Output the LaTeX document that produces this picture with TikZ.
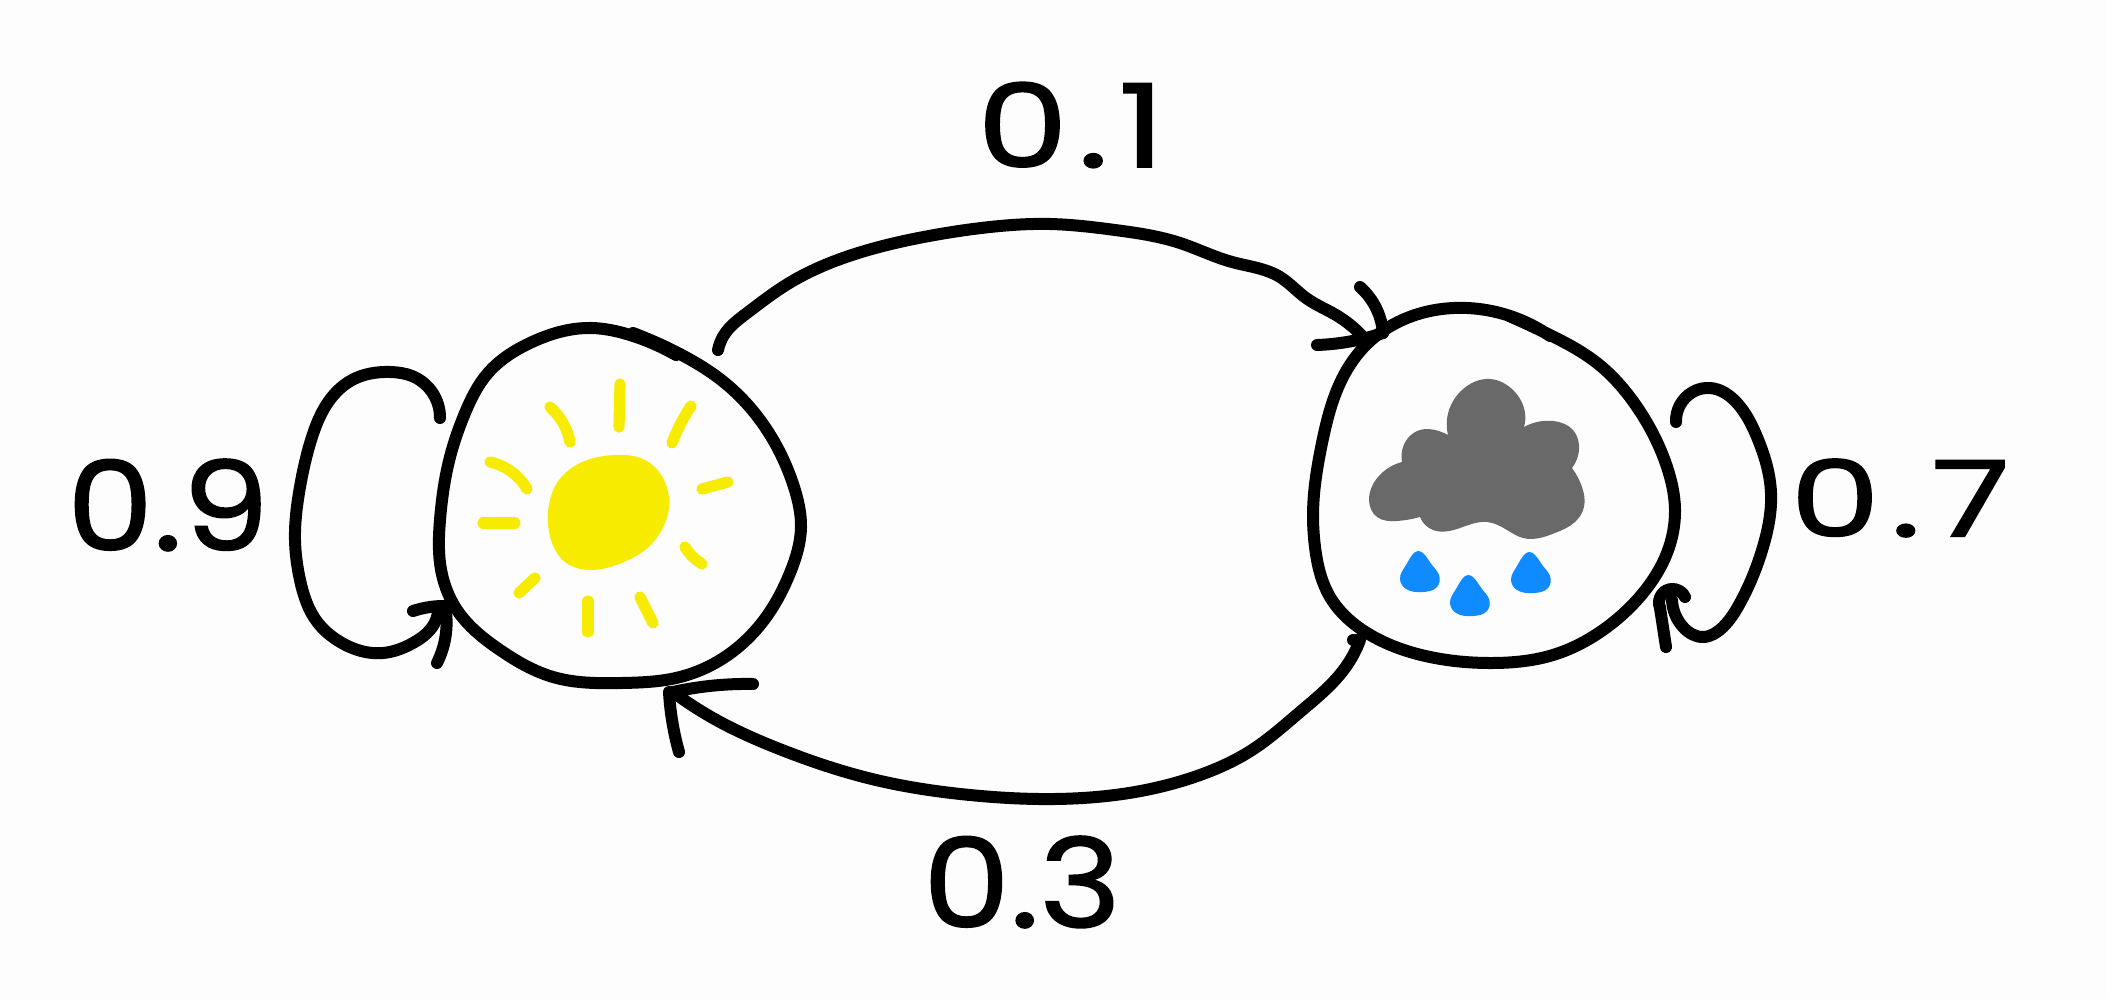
\documentclass[tikz,border=0pt]{standalone}
\usepackage{fontspec}
\usepackage{graphicx}
\usetikzlibrary{hobby}
\setmainfont{Poppins}
\newfontfamily\handfont[FakeBold=1.2]{Poppins}
\definecolor{paper}{HTML}{FDFDFD}
\definecolor{sunyellow}{HTML}{F7EC00}
\definecolor{cloudgrey}{HTML}{696969}
\definecolor{dropblue}{HTML}{0F8BFF}
\tikzset{
  use Hobby shortcut,
  ink/.style={draw=black,line width=6pt,line cap=round,line join=round},
  ray/.style={draw=sunyellow,line width=5.6pt,line cap=round,line join=round},
  lbl/.style={inner sep=0pt,text=black},
  wet/.style={fill=dropblue,draw=none}
}
\newcommand{\onedrop}[1]{\begin{scope}[shift={#1}]\fill[wet] ([closed]0,0) .. (6,3) .. (14,14) .. (21,24) .. (19,36) .. (5,41) .. (-12,38) .. (-18,28) .. (-12,14) .. (-5,3);\end{scope}}
\begin{document}
\begin{tikzpicture}[x=0.5pt,y=-0.5pt]
\useasboundingbox (0,0) rectangle (2107,999);
\fill[paper] (0,0) rectangle (2107,999);

% sun state
\draw[ink] (633,333) .. (676,352) .. (725,383) .. (767,430) .. (794,487) .. (801,527) .. (790,573) .. (764,620) .. (725,657) .. (676,678) .. (622,683) .. (553,677) .. (500,650) .. (457,610) .. (440,563) .. (440,520) .. (450,457) .. (465,413) .. (488,373) .. (530,343) .. (591,328) .. (630,335) .. (676,355);
\fill[sunyellow] ([closed]614,455) .. (645,460) .. (664,480) .. (669,507) .. (660,533) .. (645,550) .. (624,562) .. (591,570) .. (565,562) .. (551,540) .. (548,513) .. (557,483) .. (580,463);
\draw[ray] (620,384) -- (619,427);
\draw[ray] (550,407) .. (563,423) .. (570,442);
\draw[ray] (691,406) .. (681,423) .. (672,443);
\draw[ray] (490,462) .. (509,470) .. (527,489);
\draw[ray] (483,523) -- (515,523);
\draw[ray] (702,489) -- (728,482);
\draw[ray] (685,547) .. (693,557) .. (702,564);
\draw[ray] (535,578) -- (519,593);
\draw[ray] (588,601) -- (588,632);
\draw[ray] (640,597) -- (653,623);

% rain state
\draw[ink] (1507,315) .. (1550,335) .. (1597,363) .. (1637,407) .. (1667,467) .. (1675,510) .. (1667,553) .. (1643,593) .. (1603,630) .. (1553,655) .. (1493,663) .. (1430,657) .. (1367,633) .. (1330,597) .. (1315,547) .. (1313,517) .. (1322,443) .. (1340,383) .. (1363,348) .. (1407,318) .. (1467,308) .. (1507,315) .. (1550,336);
\fill[cloudgrey] (1448,435) .. (1449,410) .. (1462,390) .. (1490,379) .. (1513,390) .. (1525,413) .. (1524,427)
 -- (1524,427) .. (1553,421) .. (1573,430) .. (1579,450) .. (1572,468)
 -- (1572,468) .. (1582,487) .. (1584,507) .. (1575,522) .. (1555,533) .. (1523,538) .. (1507,530) .. (1487,522) .. (1460,528) .. (1433,530) .. (1420,517)
 -- (1420,517) .. (1397,521) .. (1377,517) .. (1369,500) .. (1378,477) .. (1402,462)
 -- (1402,462) .. (1403,447) .. (1420,430) .. (1435,430) .. (1448,435) -- cycle;
\onedrop{(1418,551)}
\onedrop{(1468,575)}
\onedrop{(1529,552)}

% connector ends
\coordinate (sunLoopOut) at (440,418);
\coordinate (sunLoopIn) at (438,608);
\coordinate (sunLoopTip) at (445,606);
\coordinate (sunLoopBarbA) at (413,611);
\coordinate (sunLoopBarbB) at (437,663);
\coordinate (rainIn) at (1363,337);
\coordinate (rainTip) at (1383,333);
\coordinate (rainBarbA) at (1360,287);
\coordinate (rainBarbB) at (1317,345);
\coordinate (sunOut) at (718,350);
\coordinate (rainOut) at (1353,640);
\coordinate (sunIn) at (673,692);
\coordinate (sunBarbA) at (753,684);
\coordinate (sunBarbB) at (679,752);
\coordinate (rainLoopOut) at (1676,422);
\coordinate (rainLoopIn) at (1672,600);
\coordinate (rainLoopTip) at (1660,608);
\coordinate (rainLoopBarbA) at (1685,597);
\coordinate (rainLoopBarbB) at (1666,647);

% sun self loop
\draw[ink] (sunLoopOut) .. (432,392) .. (412,376) .. (390,372) .. (352,380) .. (325,407) .. (312,437) .. (300,487) .. (295,540) .. (300,580) .. (318,623) .. (337,640) .. (383,653) .. (413,643) .. (436,620) .. (sunLoopIn);
\draw[ink] (sunLoopBarbA) .. (430,607) .. (sunLoopTip);
\draw[ink] (sunLoopBarbB) .. (446,633) .. (sunLoopTip);

% sun to rain
\draw[ink] (sunOut) .. (724,335) .. (747,313) .. (786,285) .. (855,254) .. (929,236) .. (990,227) .. (1050,224) .. (1115,230) .. (1180,243) .. (1232,262) .. (1280,277) .. (1306,298) .. (1336,315) .. (rainIn);
\draw[ink] (rainBarbA) .. (1377,310) .. (rainTip);
\draw[ink] (rainBarbB) .. (1347,342) .. (rainTip);

% rain to sun
\draw[ink] (rainOut) -- (1360,640) .. (1345,668) .. (1300,712) .. (1252,750) .. (1200,775) .. (1135,792) .. (1055,799) .. (970,795) .. (876,780) .. (782,750) .. (711,717) .. (sunIn);
\draw[ink] (sunBarbA) .. (720,685) .. (sunIn);
\draw[ink] (sunBarbB) .. (672,720) .. (669,692);

% rain self loop
\draw[ink] (rainLoopOut) .. (1680,405) .. (1710,388) .. (1737,403) .. (1757,437) .. (1771,493) .. (1763,547) .. (1740,603) .. (1723,627) .. (1703,637) .. (1683,627) .. (rainLoopIn);
\draw[ink] (rainLoopBarbA) .. (1672,589) .. (1662,594) .. (rainLoopTip);
\draw[ink] (rainLoopBarbB) -- (rainLoopTip);

% labels
\node[lbl,font=\handfont\fontsize{58}{60}\selectfont] (labelA) at (1071,125) {\scalebox{1.25}[1]{0\kern4pt.\kern4pt 1}};
\node[lbl,font=\handfont\fontsize{62}{64}\selectfont] (labelB) at (168,505) {\scalebox{1.11}[1]{0.9}};
\node[lbl,font=\handfont\fontsize{62}{64}\selectfont] (labelC) at (1022,882) {\scalebox{1.12}[1]{0.3}};
\node[lbl,font=\handfont\fontsize{53}{55}\selectfont] (labelD) at (1900,498) {\scalebox{1.35}[1]{0\kern4pt.\kern4pt 7}};
\end{tikzpicture}
\end{document}
